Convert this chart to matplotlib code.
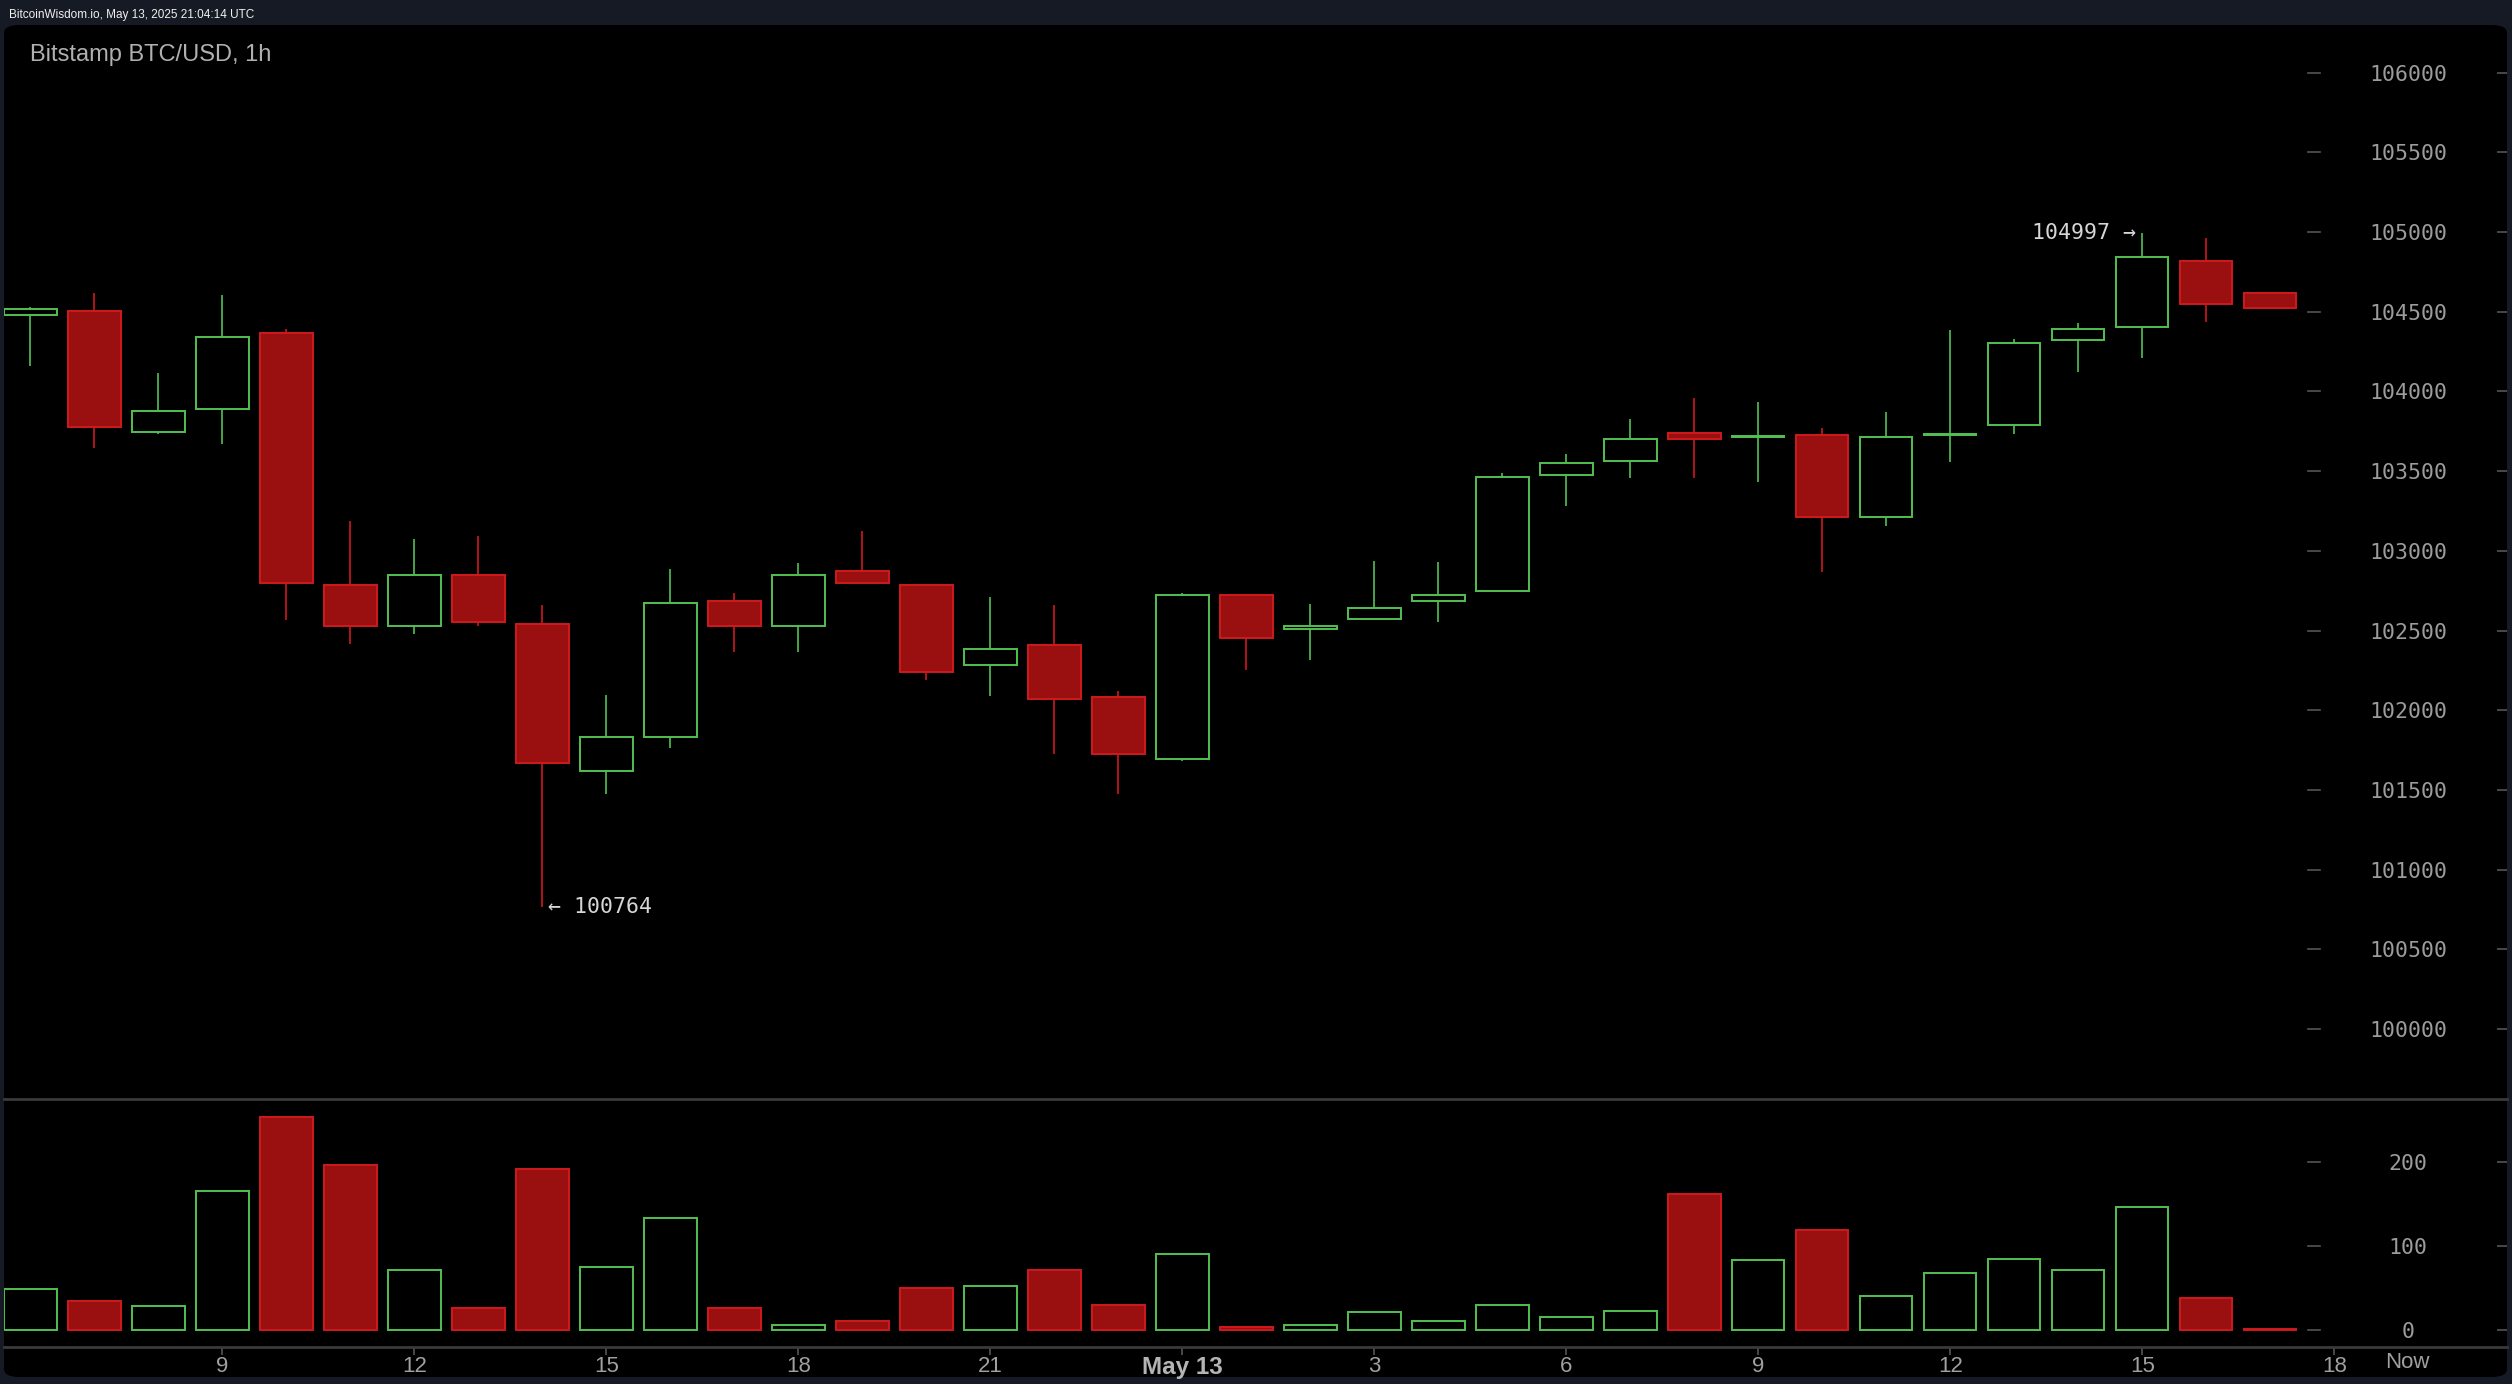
import numpy as np
import matplotlib
matplotlib.use("Agg")
import matplotlib.pyplot as plt
from matplotlib.patches import FancyBboxPatch
from matplotlib.transforms import blended_transform_factory

# Bitstamp BTC/USD hourly candles, May 12 06:00 -> May 13 17:00 UTC
opens = [104478, 104503, 103748, 103888, 104369, 102784, 102531, 102848, 102544, 101616,
         101829, 102686, 102531, 102872, 102784, 102282, 102410, 102081, 101692, 102720,
         102507, 102571, 102684, 102747, 103474, 103563, 103739, 103712, 103724, 103210,
         103725, 103788, 104326, 104402, 104816, 104618]
highs = [104533, 104618, 104116, 104606, 104390, 103188, 103076, 103091, 102662, 102096,
         102887, 102735, 102924, 103125, 102784, 102711, 102662, 102121, 102738, 102720,
         102665, 102939, 102927, 103490, 103605, 103830, 103958, 103931, 103769, 103870,
         104384, 104332, 104433, 104997, 104962, 104618]
lows = [104162, 103645, 103733, 103672, 102568, 102416, 102480, 102528, 100764, 101476,
        101765, 102367, 102367, 102796, 102191, 102090, 101728, 101476, 101680, 102252,
        102315, 102571, 102553, 102747, 103283, 103459, 103459, 103432, 102869, 103158,
        103560, 103733, 104122, 104211, 104436, 104527]
closes = [104515, 103776, 103876, 104341, 102796, 102531, 102848, 102556, 101667, 101829,
          102671, 102531, 102848, 102796, 102242, 102385, 102069, 101728, 102723, 102455,
          102531, 102644, 102720, 103462, 103550, 103702, 103699, 103722, 103210, 103712,
          103735, 104305, 104390, 104843, 104551, 104527]
volumes = [49, 35, 28, 166, 254, 197, 71, 26, 192, 75, 133, 26, 6, 11, 50, 52, 71, 30,
           90, 4, 6, 21, 11, 30, 16, 23, 162, 83, 119, 40, 68, 85, 71, 147, 38, 1]

hour_labels = ["9", "12", "15", "18", "21", "May 13", "3", "6", "9", "12", "15", "18"]
price_ticks = list(range(100000, 106001, 500))
volume_ticks = [0, 100, 200]

W, H = 2512, 1384
BG = "#161a25"
RED_FILL = "#9a0f10"
RED_EDGE = "#cf1a1d"
GREEN = "#52c152"
GRID = "#3a3a3a"
TICK = "#555555"

o = np.array(opens); c = np.array(closes)
h = np.array(highs); l = np.array(lows)
v = np.array(volumes)
x = np.arange(len(o))
up = c >= o

fig = plt.figure(figsize=(W / 100, H / 100), dpi=100, facecolor=BG)

# rounded black panel behind both axes
panel = FancyBboxPatch((4 / W, 1 - 1377 / H), 2503 / W, 1352 / H,
                       boxstyle="round,pad=0,rounding_size=0.006",
                       transform=fig.transFigure, facecolor="black",
                       edgecolor="none", zorder=-10)
fig.patches.append(panel)

ax = fig.add_axes([4 / W, 1 - 1099 / H, 2503 / W, 1074 / H], zorder=1)
ax2 = fig.add_axes([4 / W, 1 - 1346.7 / H, 2503 / W, 247.7 / H], sharex=ax, zorder=1)
for a in (ax, ax2):
    a.set_facecolor("none")
    for s in ("top", "left", "right"):
        a.spines[s].set_visible(False)
    a.spines["bottom"].set_color(GRID)
    a.spines["bottom"].set_linewidth(2)

ax.set_xlim(-0.4125, 38.70)
ax.set_ylim(99560, 106300)
ax2.set_ylim(-19.9, 275)

# candles
body_w = 0.82
ax.vlines(x[up], l[up], h[up], color=GREEN, lw=1.2, zorder=2)
ax.vlines(x[~up], l[~up], h[~up], color=RED_EDGE, lw=1.2, zorder=2)
bottom = np.minimum(o, c)
height = np.maximum(np.abs(c - o), 6)
ax.bar(x[up], height[up], bottom=bottom[up], width=body_w, facecolor="black",
       edgecolor=GREEN, linewidth=1.4, zorder=3)
ax.bar(x[~up], height[~up], bottom=bottom[~up], width=body_w, facecolor=RED_FILL,
       edgecolor=RED_EDGE, linewidth=1.4, zorder=3)

# volume
ax2.bar(x[up], v[up], width=body_w, facecolor="black", edgecolor=GREEN,
        linewidth=1.4, zorder=3)
ax2.bar(x[~up], v[~up], width=body_w, facecolor=RED_FILL, edgecolor=RED_EDGE,
        linewidth=1.4, zorder=3)

# high / low markers
mono = ["DejaVu Sans Mono"]
ih = int(np.argmax(h)); il = int(np.argmin(l))
ax.annotate(f"{h[ih]} \u2192", xy=(x[ih], h[ih]), xytext=(-6, 0),
            textcoords="offset pixels", ha="right", va="center",
            color="#d6d6d6", fontsize=15.5, family=mono)
ax.annotate(f"\u2190 {l[il]}", xy=(x[il], l[il]), xytext=(6, 0),
            textcoords="offset pixels", ha="left", va="center",
            color="#d6d6d6", fontsize=15.5, family=mono)

# right-hand scales, labels drawn inside the panel
def right_scale(a, ticks):
    a.yaxis.tick_right()
    a.set_yticks(ticks)
    a.set_yticklabels([str(t) for t in ticks])
    a.tick_params(axis="y", direction="in", length=7.2, width=1.2, color=TICK,
                  pad=-71.3, labelsize=15.5, labelcolor="#9c9c9c")
    for lbl in a.get_yticklabels():
        lbl.set_horizontalalignment("center")
        lbl.set_family(mono)
    tr = blended_transform_factory(a.transAxes, a.transData)
    for t in ticks:
        a.plot([0.9205, 0.9253], [t, t], color=TICK, lw=1.2, transform=tr,
               clip_on=False)

right_scale(ax, price_ticks)
right_scale(ax2, volume_ticks)

ax.tick_params(axis="x", bottom=False, labelbottom=False)
ax2.set_xticks(np.arange(3, 3 * len(hour_labels) + 1, 3))
ax2.set_xticklabels(hour_labels)
ax2.tick_params(axis="x", direction="out", length=5.4, width=1.2, color=TICK,
                pad=1, labelsize=16, labelcolor="#a0a0a0")
for lbl in ax2.get_xticklabels():
    lbl.set_family(["Liberation Sans", "DejaVu Sans"])
    if lbl.get_text() == "May 13":
        lbl.set_fontweight("bold")
        lbl.set_fontsize(17.5)
        lbl.set_color("#b4b4b4")

fig.text(2407 / W, 1 - 1363 / H, "Now", ha="center", va="center",
         color="#a0a0a0", fontsize=16, family=["Liberation Sans", "DejaVu Sans"])

fig.text(30 / W, 1 - 55 / H, "Bitstamp BTC/USD, 1h", ha="left", va="center",
         color="#b0b0b0", fontsize=17, family=["Liberation Sans", "DejaVu Sans"])
fig.text(9 / W, 1 - 15 / H, "BitcoinWisdom.io, May 13, 2025 21:04:14 UTC",
         ha="left", va="center", color="#f0f0f0", fontsize=8.5,
         family=["Liberation Sans", "DejaVu Sans"])

fig.savefig("out.png", dpi=100, facecolor=BG)
